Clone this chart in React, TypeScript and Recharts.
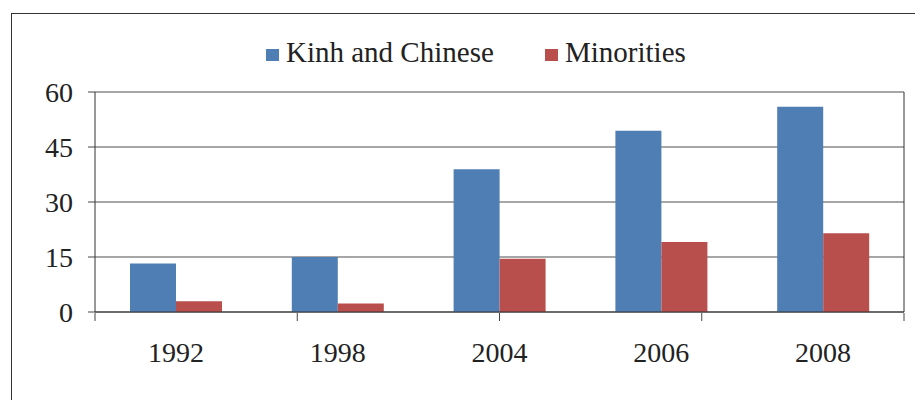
import React from 'react';
import { Bar, BarChart, CartesianGrid, XAxis, YAxis } from 'recharts';

const years = ['1992', '1998', '2004', '2006', '2008'];
const kinhChinese = [13.2, 15.0, 38.9, 49.4, 56.0];
const minorities = [2.9, 2.3, 14.5, 19.1, 21.5];
const yTicks = [0, 15, 30, 45, 60];
const edgeTicks = [0, 1, 2, 3, 4, 5];
const seriesNames = ['Kinh and Chinese', 'Minorities'];

const BLUE = '#4F7EB4';
const RED = '#B94F4C';
const INK = '#222';
const FONT = "'Liberation Serif', 'Times New Roman', serif";

const data = years.map((year, i) => ({
  year,
  kinh: kinhChinese[i],
  minor: minorities[i],
}));

// tick lines only, no labels, for the category edges
const EmptyTick = () => <g />;

function LegendItem({ color, label, left }: { color: string; label: string; left: number }) {
  return (
    <>
      <div
        style={{ position: 'absolute', left, top: 41, width: 13, height: 12, background: color }}
      />
      <div
        style={{
          position: 'absolute',
          left: left + 20,
          top: 28,
          fontFamily: FONT,
          fontSize: 29,
          color: INK,
          whiteSpace: 'nowrap',
          lineHeight: 'normal',
        }}
      >
        {label}
      </div>
    </>
  );
}

export default function App() {
  return (
    <div style={{ position: 'relative', width: 915, height: 392, overflow: 'hidden' }}>
      {/* outer frame, runs off the right and bottom edges */}
      <div
        style={{
          position: 'absolute',
          left: 3,
          top: 5,
          width: 1000,
          height: 500,
          border: '1px solid #333',
          boxSizing: 'border-box',
        }}
      />
      <LegendItem color={BLUE} label={seriesNames[0]} left={258} />
      <LegendItem color={RED} label={seriesNames[1]} left={537} />
      <div style={{ position: 'absolute', left: 0, top: 0 }}>
        <BarChart
          width={915}
          height={392}
          data={data}
          margin={{ top: 84, right: 18, bottom: 86, left: 27 }}
          barCategoryGap={35}
          barGap={0}
        >
          <CartesianGrid vertical={false} stroke="#3a3a3a" strokeOpacity={0.9} />
          <XAxis
            xAxisId="edges"
            type="number"
            domain={[0, 5]}
            ticks={edgeTicks}
            height={1}
            axisLine={false}
            tickSize={8}
            tickLine={{ stroke: '#444' }}
            tick={EmptyTick}
            allowDataOverflow
          />
          <XAxis
            dataKey="year"
            height={1}
            tickLine={false}
            tickSize={0}
            tickMargin={30}
            axisLine={{ stroke: '#333' }}
            tick={{ fill: INK, fontSize: 28, fontFamily: FONT }}
            interval={0}
          />
          <YAxis
            domain={[0, 60]}
            ticks={yTicks}
            width={60}
            tickSize={7}
            tickMargin={15}
            axisLine={{ stroke: '#333' }}
            tickLine={{ stroke: '#444' }}
            tick={{ fill: INK, fontSize: 28, fontFamily: FONT }}
            interval={0}
          />
          <YAxis
            yAxisId="right"
            orientation="right"
            domain={[0, 60]}
            width={1}
            tick={false}
            tickLine={false}
            axisLine={{ stroke: '#333' }}
          />
          <Bar dataKey="kinh" name={seriesNames[0]} fill={BLUE} isAnimationActive={false} />
          <Bar dataKey="minor" name={seriesNames[1]} fill={RED} isAnimationActive={false} />
        </BarChart>
      </div>
    </div>
  );
}
